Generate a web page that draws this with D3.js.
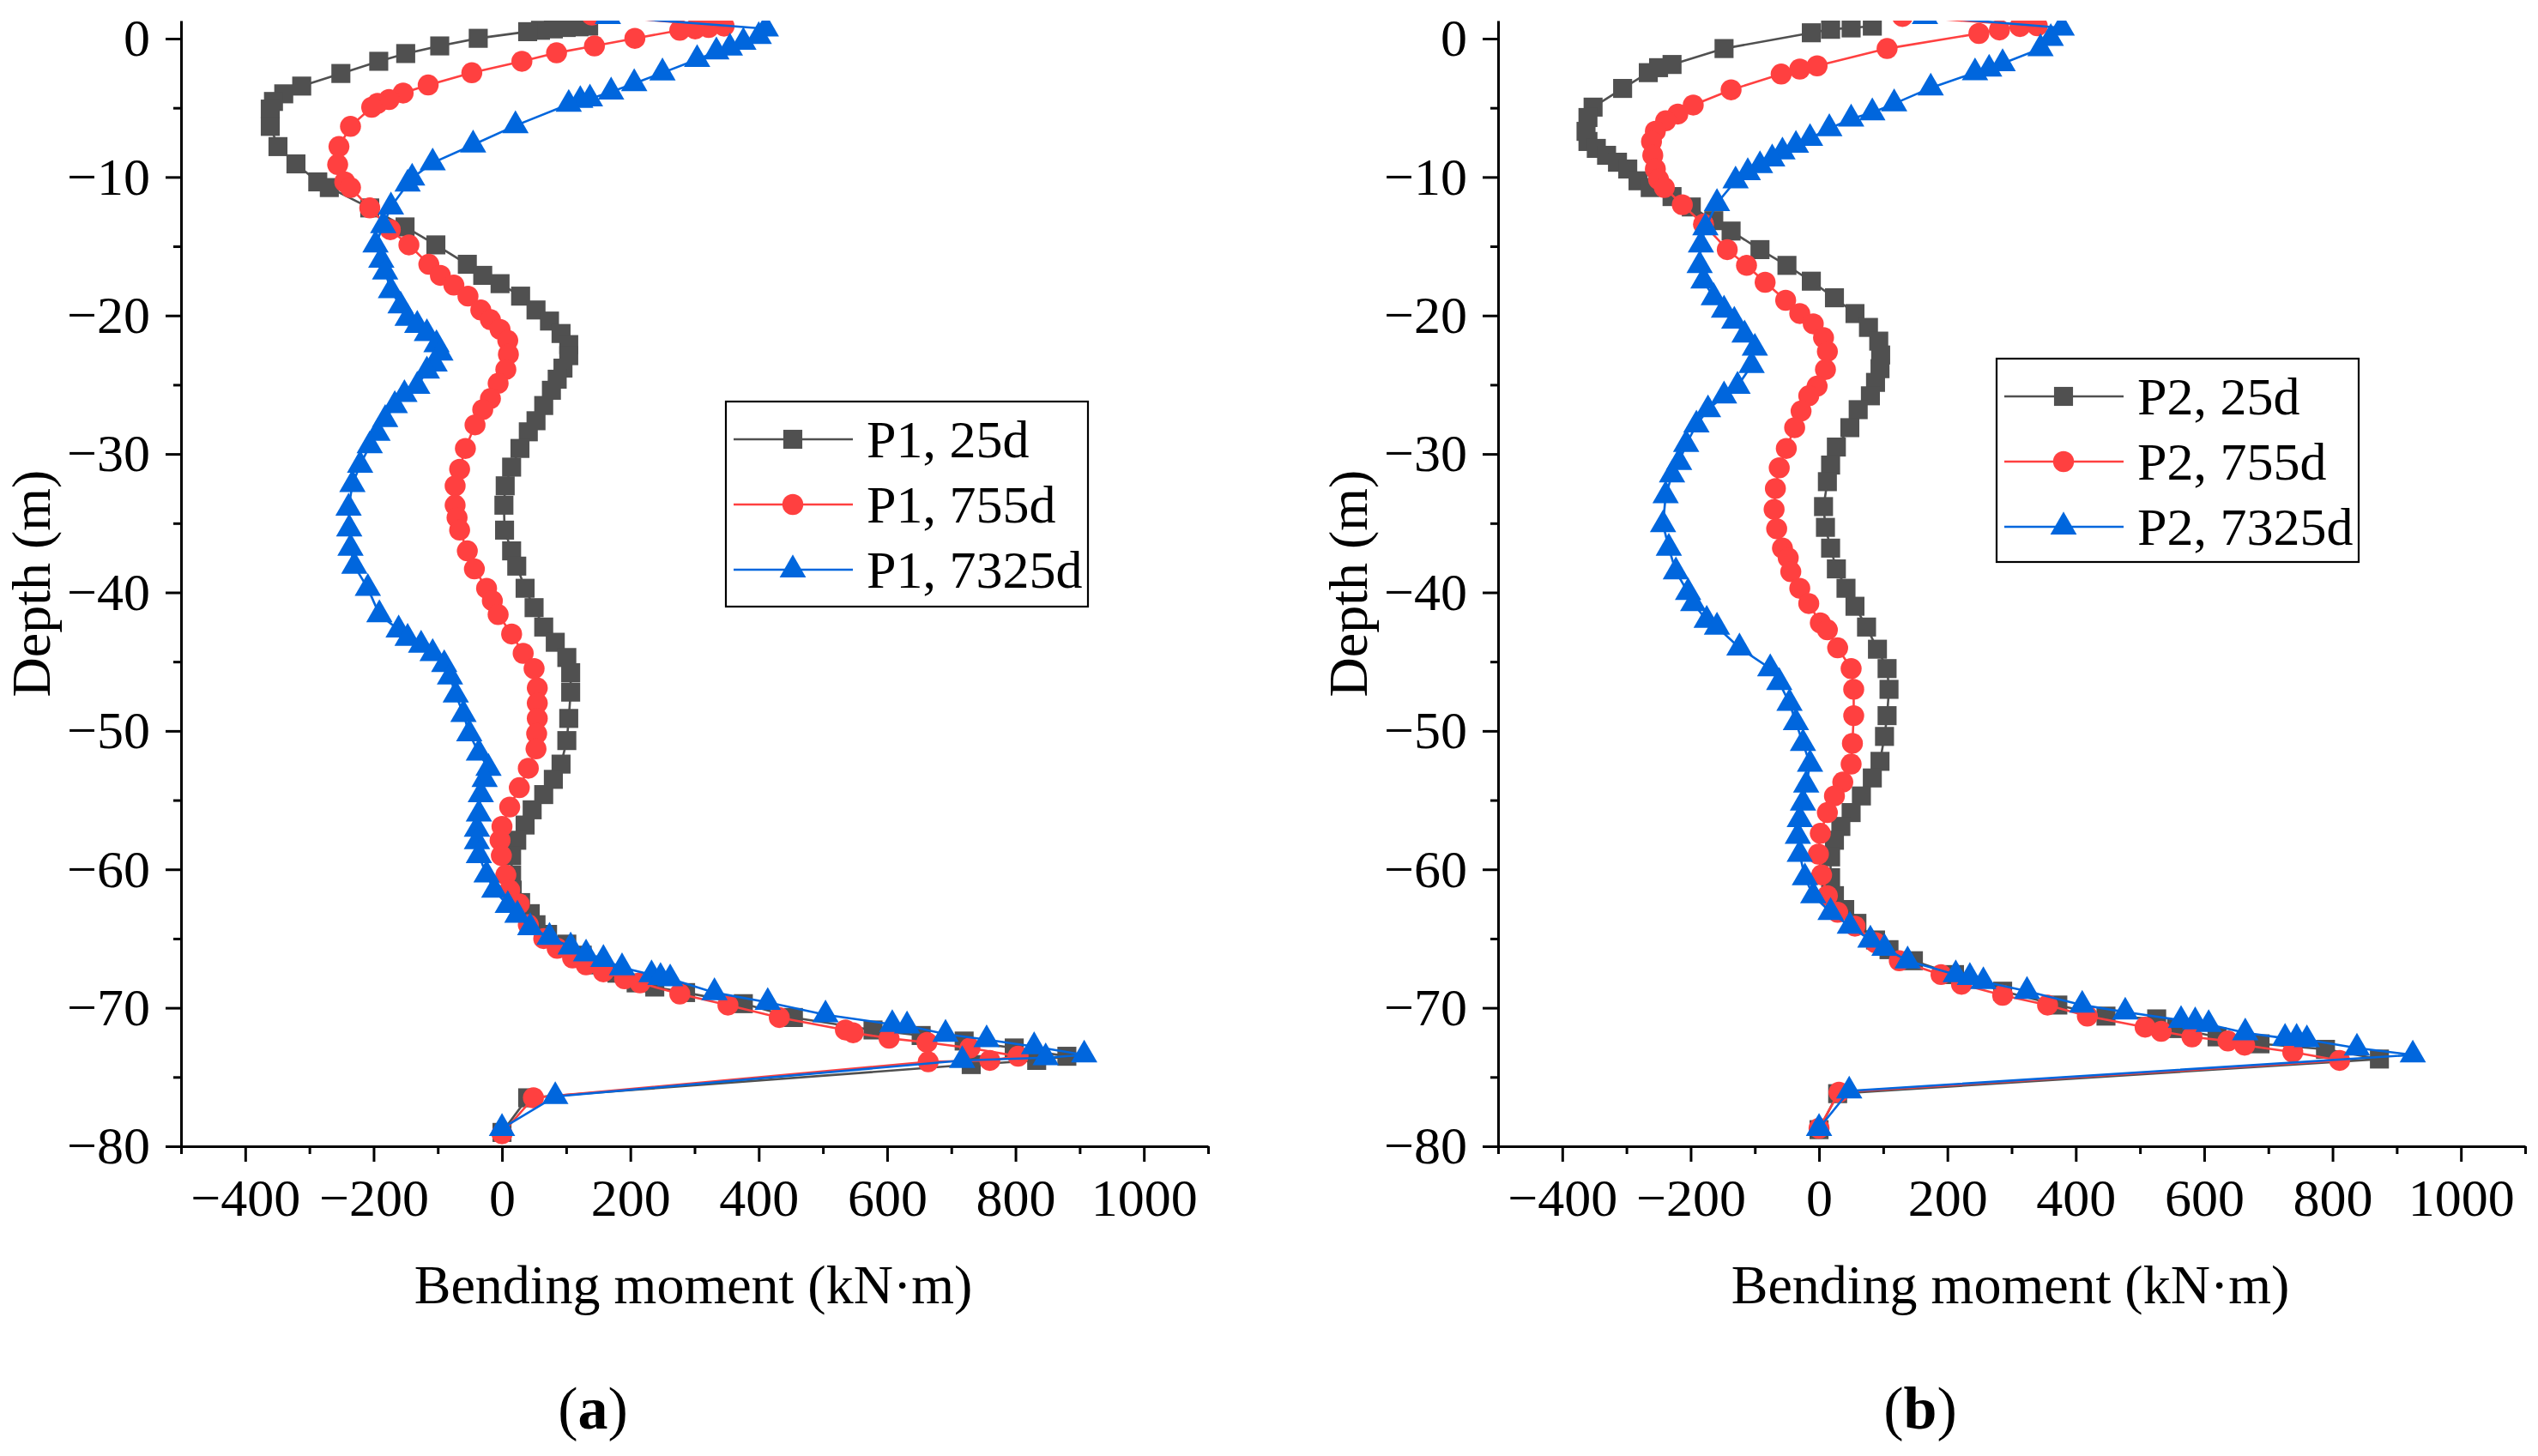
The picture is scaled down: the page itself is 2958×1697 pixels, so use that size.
<!DOCTYPE html>
<html>
<head>
<meta charset="utf-8">
<script src="https://cdn.jsdelivr.net/npm/d3@7"></script>
<style>
  body { margin: 0; background: #fff; }
  text { font-family: "Liberation Serif", "Times New Roman", serif; fill: #000; }
</style>
</head>
<body>
<svg id="chart" width="2958" height="1697"></svg>
<script>
// [bending moment kN·m, depth m]
const p1_25d = [
  [135, 0.9], [120, 0.85], [100, 0.8], [80, 0.7], [60, 0.6], [40, 0.5],
  [-37, 0.02], [-97, -0.53], [-150, -1.08], [-192, -1.64], [-251, -2.52], [-312, -3.43],
  [-340, -3.99], [-356, -4.54], [-361, -5.09], [-361, -6.34], [-349, -7.8], [-321, -9.05],
  [-287, -10.35], [-269, -10.76], [-206, -12.23], [-151, -13.6], [-103, -14.9], [-54, -16.3],
  [-30, -17.1], [-3, -17.7], [29, -18.6], [53, -19.6], [74, -20.4], [92, -21.3], [104, -22.1],
  [104, -22.9], [95, -23.8], [86, -24.6], [77, -25.4], [65, -26.5], [53, -27.6], [41, -28.4],
  [28, -29.6], [15, -30.95], [5, -32.3], [3, -33.7], [4, -35.5], [15, -37.0], [23, -38.1],
  [36, -39.7], [50, -41.1], [65, -42.5], [83, -43.6], [101, -44.7], [107, -45.8], [107, -47.2],
  [104, -49.1], [101, -50.7], [92, -52.4], [80, -53.5], [65, -54.6], [47, -55.7], [36, -56.8],
  [23, -57.9], [15, -59.0], [15, -60.4], [16, -61.5], [29, -62.4], [44, -63.2], [53, -64.0],
  [71, -64.7], [101, -65.4], [125, -66.2], [149, -66.9], [179, -67.5], [209, -68.2], [238, -68.5],
  [286, -68.9], [376, -69.7], [454, -70.7], [578, -71.6], [653, -72.0], [720, -72.4], [798, -72.9],
  [880, -73.5], [833, -73.8], [731, -74.1], [40, -76.5], [0, -79.0]
];
const p1_755d = [
  [140, 1.7], [346, 0.9], [322, 0.8], [301, 0.7], [277, 0.6], [207, 0.02], [144, -0.53],
  [85, -1.03], [31, -1.64], [-47, -2.47], [-115, -3.35], [-154, -3.93], [-176, -4.4], [-194, -4.68],
  [-203, -4.96], [-236, -6.34], [-254, -7.8], [-256, -9.1], [-245, -10.35], [-236, -10.76],
  [-206, -12.23], [-174, -13.8], [-145, -14.9], [-114, -16.3], [-96, -17.1], [-75, -17.8],
  [-53, -18.6], [-33, -19.6], [-18, -20.3], [-3, -21.0], [9, -21.8], [10, -22.8], [6, -23.9],
  [-6, -24.9], [-18, -26.0], [-30, -26.8], [-42, -27.9], [-57, -29.6], [-66, -31.1], [-73, -32.3],
  [-73, -33.7], [-70, -34.6], [-66, -35.5], [-54, -37.0], [-43, -38.3], [-24, -39.7], [-15, -40.6],
  [-6, -41.6], [15, -43.0], [33, -44.4], [50, -45.5], [55, -46.9], [55, -48.0], [55, -49.1],
  [54, -50.2], [53, -51.3], [41, -52.7], [27, -54.1], [12, -55.5], [0, -56.9], [-3, -57.9],
  [-1, -59.0], [6, -60.4], [12, -61.5], [27, -62.5], [41, -64.0], [65, -65.0], [86, -65.7],
  [110, -66.4], [131, -66.9], [158, -67.4], [191, -67.9], [215, -68.2], [277, -69.0], [352, -69.8],
  [432, -70.7], [535, -71.6], [547, -71.8], [603, -72.2], [662, -72.5], [729, -72.9], [804, -73.5],
  [760, -73.8], [664, -73.9], [49, -76.5], [0, -79.1]
];
const p1_7325d = [
  [165, 1.6], [411, 0.71], [400, 0.16], [376, -0.25], [355, -0.67], [334, -0.95], [304, -1.5],
  [250, -2.47], [206, -3.24], [170, -3.85], [137, -4.35], [122, -4.46], [104, -4.74], [21, -6.28],
  [-45, -7.67], [-108, -8.97], [-140, -10.07], [-147, -10.5], [-173, -12.15], [-185, -13.5],
  [-197, -14.9], [-188, -16.0], [-182, -16.85], [-173, -18.2], [-158, -19.3], [-147, -20.2],
  [-132, -20.7], [-117, -21.3], [-102, -22.1], [-96, -22.7], [-105, -23.5], [-117, -24.0],
  [-132, -25.1], [-152, -25.7], [-167, -26.5], [-182, -27.5], [-194, -28.5], [-206, -29.4],
  [-221, -30.8], [-233, -32.2], [-239, -33.9], [-238, -35.4], [-236, -36.8], [-230, -38.1],
  [-209, -39.7], [-191, -41.6], [-161, -42.7], [-147, -43.3], [-126, -43.8], [-108, -44.4],
  [-90, -45.2], [-81, -46.1], [-72, -47.4], [-60, -48.8], [-51, -50.2], [-36, -51.6], [-21, -52.7],
  [-27, -53.5], [-33, -54.6], [-36, -56.0], [-39, -57.1], [-39, -58.0], [-36, -59.0], [-24, -60.4],
  [-12, -61.5], [9, -62.6], [24, -63.3], [44, -64.2], [74, -64.9], [107, -65.6], [131, -66.1],
  [158, -66.5], [187, -67.1], [233, -67.6], [247, -67.8], [262, -67.9], [331, -68.9], [414, -69.6],
  [504, -70.5], [608, -71.2], [631, -71.3], [691, -71.9], [755, -72.3], [829, -72.8], [907, -73.4],
  [847, -73.6], [717, -73.8], [83, -76.4], [0, -78.7]
];

const p2_25d = [
  [83, 0.9], [50, 0.77], [18, 0.67], [-12, 0.42], [-148, -0.72], [-229, -1.87], [-250, -2.1],
  [-266, -2.46], [-306, -3.6], [-352, -4.95], [-360, -5.7], [-363, -6.7], [-360, -7.43],
  [-347, -7.93], [-331, -8.43], [-314, -8.93], [-298, -9.42], [-282, -10.27], [-263, -10.76],
  [-229, -11.41], [-199, -12.16], [-164, -13.15], [-137, -13.9], [-92, -15.24], [-50, -16.38],
  [-12, -17.52], [24, -18.72], [56, -19.86], [77, -20.86], [93, -21.85], [96, -22.85], [95, -23.84],
  [88, -24.83], [80, -25.8], [61, -26.8], [48, -28.1], [27, -29.5], [18, -30.8], [13, -32.0],
  [7, -33.8], [10, -35.3], [18, -36.8], [27, -38.3], [42, -39.7], [56, -41.0], [74, -42.5],
  [91, -44.1], [106, -45.5], [109, -47.0], [106, -48.9], [102, -50.4], [95, -52.2], [83, -53.4],
  [66, -54.7], [50, -55.9], [34, -56.9], [24, -57.9], [18, -59.1], [18, -60.6], [24, -61.9],
  [40, -62.9], [59, -63.9], [88, -65.1], [109, -65.8], [147, -66.6], [211, -67.6], [286, -68.8],
  [372, -69.8], [447, -70.6], [526, -70.8], [557, -71.5], [620, -72.1], [687, -72.6], [789, -73.0],
  [873, -73.7], [29, -76.2], [0, -78.8]
];
const p2_755d = [
  [130, 1.6], [340, 0.92], [313, 0.87], [281, 0.62], [249, 0.37], [106, -0.72], [-3, -1.97],
  [-30, -2.2], [-59, -2.56], [-137, -3.7], [-196, -4.8], [-220, -5.45], [-239, -5.94], [-255, -6.69],
  [-261, -7.43], [-259, -8.43], [-255, -9.42], [-250, -10.17], [-241, -10.76], [-213, -12.0],
  [-180, -13.4], [-143, -15.24], [-113, -16.38], [-84, -17.6], [-52, -18.9], [-30, -19.86],
  [-9, -20.6], [7, -21.6], [13, -22.6], [10, -23.9], [-3, -25.1], [-16, -25.8], [-28, -26.9],
  [-38, -28.1], [-51, -29.6], [-62, -31.0], [-68, -32.5], [-70, -34.0], [-66, -35.4], [-57, -36.8],
  [-48, -37.5], [-44, -38.5], [-30, -39.7], [-16, -40.8], [2, -42.2], [13, -42.7], [29, -44.0],
  [50, -45.5], [54, -47.0], [54, -48.9], [52, -50.9], [50, -52.4], [37, -53.7], [24, -54.7],
  [13, -55.9], [2, -57.4], [-1, -58.9], [4, -60.4], [13, -61.9], [29, -63.1], [56, -64.1],
  [88, -65.3], [125, -66.6], [190, -67.6], [222, -68.3], [286, -69.1], [356, -69.8], [418, -70.6],
  [508, -71.4], [533, -71.7], [581, -72.1], [637, -72.4], [663, -72.7], [738, -73.2], [811, -73.8],
  [31, -76.1], [0, -78.7]
];
const p2_7325d = [
  [165, 1.6], [378, 0.77], [361, 0.02], [345, -0.72], [286, -1.8], [265, -2.2], [243, -2.46],
  [174, -3.56], [117, -4.7], [83, -5.35], [50, -5.8], [16, -6.5], [-14, -7.2], [-36, -7.7],
  [-57, -8.18], [-73, -8.68], [-92, -9.17], [-111, -9.67], [-130, -10.27], [-159, -11.9],
  [-177, -13.65], [-184, -14.9], [-186, -16.38], [-180, -17.5], [-164, -18.7], [-148, -19.6],
  [-132, -20.4], [-116, -21.4], [-100, -22.35], [-105, -23.6], [-127, -25.1], [-148, -25.8],
  [-173, -26.8], [-191, -27.9], [-207, -29.3], [-218, -30.6], [-229, -31.5], [-239, -33.0],
  [-243, -35.1], [-234, -36.8], [-223, -38.5], [-204, -40.0], [-196, -40.8], [-175, -42.0],
  [-159, -42.5], [-124, -44.0], [-76, -45.5], [-62, -46.5], [-46, -48.0], [-36, -49.4], [-25, -50.9],
  [-14, -52.4], [-20, -53.9], [-25, -55.2], [-30, -56.4], [-33, -57.6], [-30, -58.9], [-22, -60.6],
  [-9, -61.9], [18, -63.1], [48, -64.1], [80, -65.1], [102, -65.7], [138, -66.6], [213, -67.6],
  [235, -67.8], [256, -68.1], [324, -68.8], [410, -69.8], [477, -70.3], [564, -70.9], [586, -71.0],
  [607, -71.2], [664, -71.8], [726, -72.2], [744, -72.2], [760, -72.3], [838, -72.9], [925, -73.4],
  [47, -76.0], [0, -78.7]
];

const legendA = ["P1, 25d", "P1, 755d", "P1, 7325d"];
const legendB = ["P2, 25d", "P2, 755d", "P2, 7325d"];
const xMajorTicks = [-400, -200, 0, 200, 400, 600, 800, 1000];
const xMinorTicks = [-500, -300, -100, 100, 300, 500, 700, 900, 1100];
const yMajorTicks = [0, -10, -20, -30, -40, -50, -60, -70, -80];
const yMinorTicks = [-5, -15, -25, -35, -45, -55, -65, -75];

const colors = ["#505050", "#ff4040", "#0066dd"];
const shapes = [d3.symbolSquare, d3.symbolCircle, d3.symbolTriangle];
const shapeSize = [490, 470, 410];
const fmt = d3.format("d");

const svg = d3.select("#chart");

function drawPanel(opt) {
  const x = d3.scaleLinear().domain([-500, 1100]).range([opt.left, opt.left + 1197]);
  const y = d3.scaleLinear().domain([-80, 1.3]).range([1336, 24]);
  const g = svg.append("g");

  const clipId = "clip_" + opt.id;
  g.append("clipPath").attr("id", clipId)
    .append("rect")
    .attr("x", x(-500)).attr("y", y(1.3))
    .attr("width", x(1100) - x(-500)).attr("height", y(-80) - y(1.3) + 12);

  const plot = g.append("g").attr("clip-path", `url(#${clipId})`);
  const line = d3.line().x(d => x(d[0])).y(d => y(d[1]));

  opt.series.forEach((s, i) => {
    plot.append("path")
      .datum(s)
      .attr("d", line)
      .attr("fill", "none")
      .attr("stroke", colors[i])
      .attr("stroke-width", 2.6);
    plot.selectAll(".m" + i)
      .data(s)
      .enter()
      .append("path")
      .attr("class", "m" + i)
      .attr("d", d3.symbol().type(shapes[i]).size(shapeSize[i]))
      .attr("transform", d => `translate(${x(d[0])},${y(d[1])})`)
      .attr("fill", colors[i]);
  });

  // axes
  const styleAxis = sel => {
    sel.attr("font-family", null);
    sel.selectAll("path, line").attr("stroke", "#000").attr("stroke-width", 3);
    sel.selectAll("text").style("font-size", "62px").attr("fill", "#000");
  };
  g.append("g")
    .attr("transform", `translate(0,${y(-80)})`)
    .call(d3.axisBottom(x).tickValues(xMinorTicks).tickSize(9).tickFormat("").tickSizeOuter(0))
    .call(styleAxis);
  g.append("g")
    .attr("transform", `translate(0,${y(-80)})`)
    .call(d3.axisBottom(x).tickValues(xMajorTicks).tickSize(18).tickPadding(19).tickSizeOuter(0).tickFormat(fmt))
    .call(styleAxis)
    .call(a => a.select(".domain").remove());
  g.append("g")
    .attr("transform", `translate(${x(-500)},0)`)
    .call(d3.axisLeft(y).tickValues(yMinorTicks).tickSize(9).tickFormat("").tickSizeOuter(0))
    .call(styleAxis);
  g.append("g")
    .attr("transform", `translate(${x(-500)},0)`)
    .call(d3.axisLeft(y).tickValues(yMajorTicks).tickSize(18).tickPadding(18).tickSizeOuter(0).tickFormat(fmt))
    .call(styleAxis)
    .call(a => a.select(".domain").remove());

  // axis titles
  g.append("text")
    .attr("x", opt.left + 597).attr("y", 1519)
    .attr("text-anchor", "middle")
    .style("font-size", "64px")
    .text("Bending moment (kN·m)");
  g.append("text")
    .attr("transform", `translate(${opt.left - 153},680) rotate(-90)`)
    .attr("text-anchor", "middle")
    .style("font-size", "64px")
    .text("Depth (m)");

  // panel label
  const lab = g.append("text")
    .attr("x", opt.labelX).attr("y", 1665)
    .attr("text-anchor", "middle")
    .style("font-size", "70px");
  lab.append("tspan").text("(");
  lab.append("tspan").style("font-weight", "bold").text(opt.label);
  lab.append("tspan").text(")");

  // legend
  const lg = g.append("g").attr("transform", `translate(${opt.legX},${opt.legY})`);
  lg.append("rect")
    .attr("width", 422).attr("height", opt.legH)
    .attr("fill", "#fff").attr("stroke", "#000").attr("stroke-width", 2.2);
  opt.names.forEach((name, i) => {
    const ry = 44 + i * 76;
    lg.append("line")
      .attr("x1", 9).attr("x2", 148).attr("y1", ry).attr("y2", ry)
      .attr("stroke", colors[i]).attr("stroke-width", 2.6);
    lg.append("path")
      .attr("d", d3.symbol().type(shapes[i]).size(shapeSize[i]))
      .attr("transform", `translate(78,${ry})`)
      .attr("fill", colors[i]);
    lg.append("text")
      .attr("x", 164).attr("y", ry + 21)
      .style("font-size", "62px")
      .text(name);
  });
}

drawPanel({
  id: "a", left: 211, series: [p1_25d, p1_755d, p1_7325d], names: legendA,
  legX: 846, legY: 468, legH: 239, label: "a", labelX: 691
});
drawPanel({
  id: "b", left: 1746, series: [p2_25d, p2_755d, p2_7325d], names: legendB,
  legX: 2327, legY: 418, legH: 237, label: "b", labelX: 2238
});
</script>
</body>
</html>
